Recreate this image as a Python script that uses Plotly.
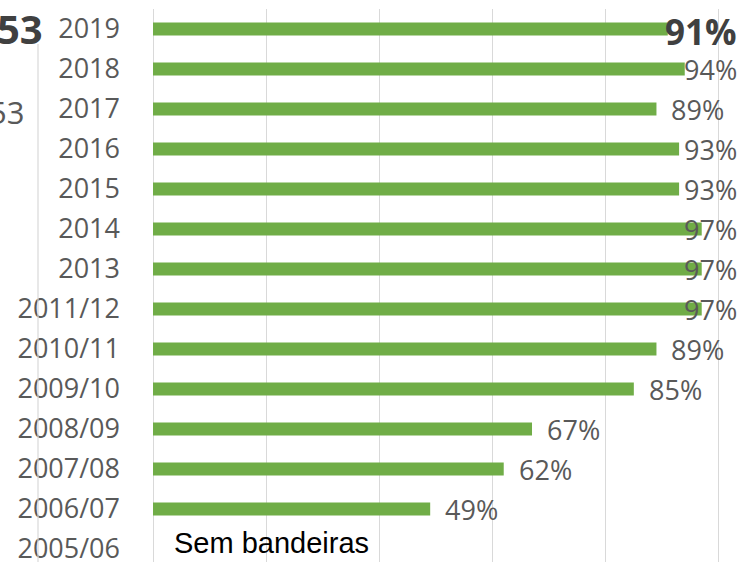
import plotly.graph_objects as go

categories = ["2019", "2018", "2017", "2016", "2015", "2014", "2013",
              "2011/12", "2010/11", "2009/10", "2008/09", "2007/08",
              "2006/07", "2005/06"]
values = [91, 94, 89, 93, 93, 97, 97, 97, 89, 85, 67, 62, 49, None]
labels = ["91%", "94%", "89%", "93%", "93%", "97%", "97%", "97%",
          "89%", "85%", "67%", "62%", "49%", ""]
bold_flags = [True] + [False] * 13
no_data_note = "Sem bandeiras"
side_texts = ["53", "53"]

W, H = 744, 562
ML, MR, MT, MB = 153, 14, 9, 0
XMAX = 102
plot_w = W - ML - MR
px_per_unit = plot_w / XMAX
LABEL_RIGHT_PX = 739  # labels are kept inside this edge
GAP = 13

GREEN = "#70AD47"
GRAY_TXT = "#595959"
GRID = "#D9D9D9"

fig = go.Figure()
fig.add_trace(go.Bar(
    y=categories, x=values, orientation="h",
    marker=dict(color=GREEN, line=dict(width=0)),
    width=0.33, hoverinfo="skip", showlegend=False,
))

annotations = []
for i, (v, lab, b) in enumerate(zip(values, labels, bold_flags)):
    if v is None:
        continue
    fs = 35 if b else 27
    est_w = (2 * 0.572 + 0.9) * fs
    right_edge = ML + v * px_per_unit + GAP + est_w
    txt = f"<b>{lab}</b>" if b else lab
    color = "#404040" if b else GRAY_TXT
    if right_edge > LABEL_RIGHT_PX:
        annotations.append(dict(
            x=(LABEL_RIGHT_PX - ML) / plot_w, xref="paper", xanchor="right",
            y=i, yref="y", yanchor="middle", text=txt, showarrow=False,
            font=dict(family="Open Sans", size=fs, color=color),
            yshift=-2 if b else 0,
        ))
    else:
        annotations.append(dict(
            x=v, xref="x", xanchor="left", xshift=GAP,
            y=i, yref="y", yanchor="middle", text=txt, showarrow=False,
            font=dict(family="Open Sans", size=fs, color=color),
        ))

# note for the year without data
annotations.append(dict(
    x=0, xref="x", xanchor="left", xshift=19,
    y=len(categories) - 1, yref="y", yanchor="middle", yshift=6,
    text=no_data_note, showarrow=False,
    font=dict(family="Liberation Sans", size=29, color="black"),
))

# cropped neighbouring panel text on the far left
annotations.append(dict(
    x=(45 - ML) / plot_w, xref="paper", xanchor="right",
    y=1 - (28 - MT) / (H - MT - MB), yref="paper", yanchor="middle",
    text=f"<b>{side_texts[0]}</b>", showarrow=False,
    font=dict(family="Open Sans", size=40, color="#404040"),
))
annotations.append(dict(
    x=(26 - ML) / plot_w, xref="paper", xanchor="right",
    y=1 - (112 - MT) / (H - MT - MB), yref="paper", yanchor="middle",
    text=side_texts[1], showarrow=False,
    font=dict(family="Open Sans", size=31, color=GRAY_TXT),
))

shapes = [dict(
    type="line", xref="paper", yref="paper",
    x0=(38 - ML) / plot_w, x1=(38 - ML) / plot_w,
    y0=0, y1=1 - (44 - MT) / (H - MT - MB),
    line=dict(color=GRID, width=1.2),
)]

fig.update_layout(
    width=W, height=H,
    margin=dict(l=ML, r=MR, t=MT, b=MB, pad=0),
    plot_bgcolor="white", paper_bgcolor="white",
    xaxis=dict(range=[0, XMAX], dtick=20, tick0=0, showticklabels=False,
               showgrid=True, gridcolor=GRID, gridwidth=1,
               zeroline=True, zerolinecolor=GRID, zerolinewidth=1,
               showline=False, fixedrange=True),
    yaxis=dict(type="category", categoryorder="array",
               categoryarray=categories,
               range=[len(categories) - 1 + 0.325, -0.5],
               tickfont=dict(family="Open Sans", size=27, color=GRAY_TXT),
               ticks="", ticklabelstandoff=32, showgrid=False,
               zeroline=False, showline=False, fixedrange=True,
               automargin=False),
    annotations=annotations,
    shapes=shapes,
    font=dict(family="Open Sans"),
)

fig.write_html("out.html",
               config={"displayModeBar": False, "staticPlot": True},
               post_script="document.body.style.margin='0';"
                           "document.body.style.overflow='hidden';")
